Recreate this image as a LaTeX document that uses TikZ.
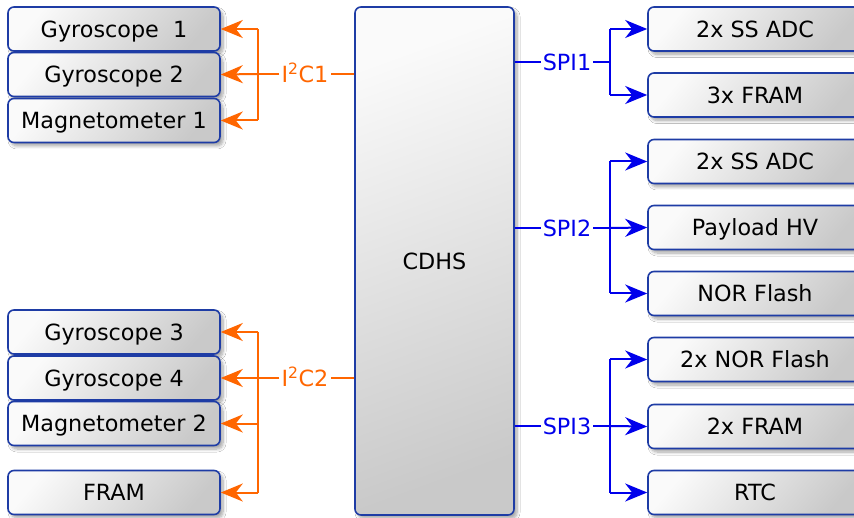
\documentclass[tikz,border=0pt]{standalone}
\usepackage{fontspec}
\setmainfont{DejaVu Sans}
\usetikzlibrary{arrows.meta,shadows.blur}
\definecolor{boxedge}{RGB}{30,60,165}
\definecolor{busorange}{RGB}{255,102,0}
\definecolor{busblue}{RGB}{0,0,235}
\tikzset{
  unit/.style={draw=boxedge, line width=1.6pt, rounded corners=6pt,
    top color=black!2, bottom color=black!21, shading angle=50,
    blur shadow={shadow xshift=3pt, shadow yshift=-3.5pt, shadow blur radius=3pt,
      shadow blur steps=8, shadow opacity=35},
    inner sep=0pt, text height=16.3pt, text depth=0pt,
    font=\fontsize{22.3}{26}\selectfont},
  leftunit/.style={unit, minimum width=212pt, minimum height=44pt},
  rightunit/.style={unit, minimum width=214pt, minimum height=44pt},
  buslabel/.style={inner sep=2pt, text height=16.3pt, text depth=0pt,
    font=\fontsize{22.3}{26}\selectfont},
  i2c/.style={draw=busorange, line width=2pt},
  spi/.style={draw=busblue, line width=2pt},
  tip/.style={-{Stealth[length=22pt,width=18pt,inset=7pt]}}
}
\begin{document}
\begin{tikzpicture}[x=1pt,y=-1pt]
\useasboundingbox (0,0) rectangle (854,518);
\fill[white] (0,0) rectangle (854,518);

% central controller
\node[unit, minimum width=159pt, minimum height=508pt, shading angle=20] (cdhs) at (434.5,261) {CDHS};

% sensors on the first I2C bus
\node[leftunit] (gyro1) at (114,29) {Gyroscope\ \ 1};
\node[leftunit] (gyro2) at (114,74.5) {Gyroscope 2};
\node[leftunit] (mag1) at (114,120.5) {Magnetometer 1};

% sensors on the second I2C bus
\node[leftunit] (gyro3) at (114,332) {Gyroscope 3};
\node[leftunit] (gyro4) at (114,378) {Gyroscope 4};
\node[leftunit] (mag2) at (114,423.5) {Magnetometer 2};
\node[leftunit] (fram) at (114,492.5) {FRAM};

% SPI peripherals
\node[rightunit] (adc1) at (755,29) {2x SS ADC};
\node[rightunit] (fram3) at (755,95) {3x FRAM};
\node[rightunit] (adc2) at (755,161.5) {2x SS ADC};
\node[rightunit] (hv) at (755,227.5) {Payload HV};
\node[rightunit] (nor) at (755,293.5) {NOR Flash};
\node[rightunit] (nor2) at (755,359.5) {2x NOR Flash};
\node[rightunit] (fram2) at (755,426.5) {2x FRAM};
\node[rightunit] (rtc) at (755,492.5) {RTC};

% I2C1 bus
\node[buslabel, text=busorange] (i2ca) at (305,74) {I\textsuperscript{2}C1};
\coordinate (ja) at (258,74);
\draw[i2c] (cdhs.west |- i2ca) -- (i2ca.east);
\draw[i2c] (i2ca.west) -- (ja);
\draw[i2c] (ja |- gyro1) -- (ja |- mag1);
\draw[i2c, tip] (ja |- gyro1) -- (gyro1.east);
\draw[i2c, tip] (ja) -- (gyro2.east);
\draw[i2c, tip] (ja |- mag1) -- (mag1.east);

% I2C2 bus
\node[buslabel, text=busorange] (i2cb) at (305,378) {I\textsuperscript{2}C2};
\coordinate (jb) at (258,378);
\draw[i2c] (cdhs.west |- i2cb) -- (i2cb.east);
\draw[i2c] (i2cb.west) -- (jb);
\draw[i2c] (jb |- gyro3) -- (jb |- fram);
\draw[i2c, tip] (jb |- gyro3) -- (gyro3.east);
\draw[i2c, tip] (jb) -- (gyro4.east);
\draw[i2c, tip] (jb |- mag2) -- (mag2.east);
\draw[i2c, tip] (jb |- fram) -- (fram.east);

% SPI1 bus
\node[buslabel, text=busblue] (spia) at (567,62) {SPI1};
\coordinate (sa) at (610,62);
\draw[spi] (cdhs.east |- spia) -- (spia.west);
\draw[spi] (spia.east) -- (sa);
\draw[spi] (sa |- adc1) -- (sa |- fram3);
\draw[spi, tip] (sa |- adc1) -- (adc1.west);
\draw[spi, tip] (sa |- fram3) -- (fram3.west);

% SPI2 bus
\node[buslabel, text=busblue] (spib) at (567,228) {SPI2};
\coordinate (sb) at (610,228);
\draw[spi] (cdhs.east |- spib) -- (spib.west);
\draw[spi] (spib.east) -- (sb);
\draw[spi] (sb |- adc2) -- (sb |- nor);
\draw[spi, tip] (sb |- adc2) -- (adc2.west);
\draw[spi, tip] (sb) -- (hv.west);
\draw[spi, tip] (sb |- nor) -- (nor.west);

% SPI3 bus
\node[buslabel, text=busblue] (spic) at (567,426) {SPI3};
\coordinate (sc) at (610,426);
\draw[spi] (cdhs.east |- spic) -- (spic.west);
\draw[spi] (spic.east) -- (sc);
\draw[spi] (sc |- nor2) -- (sc |- rtc);
\draw[spi, tip] (sc |- nor2) -- (nor2.west);
\draw[spi, tip] (sc) -- (fram2.west);
\draw[spi, tip] (sc |- rtc) -- (rtc.west);
\end{tikzpicture}
\end{document}
